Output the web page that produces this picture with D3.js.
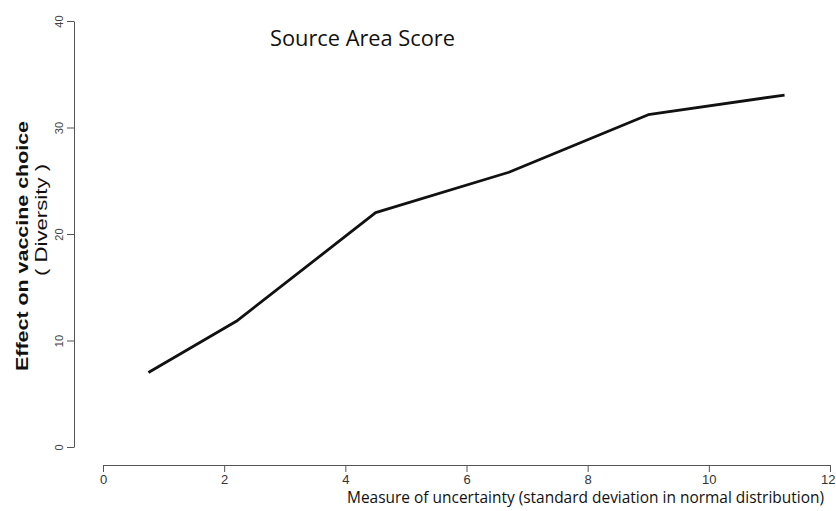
<!DOCTYPE html>
<html><head><meta charset="utf-8">
<script src="https://cdn.jsdelivr.net/npm/d3@7"></script>
<style>body{margin:0;background:#fff}</style>
</head><body>
<svg id="c" width="836" height="511"></svg>
<script>
const xValues = [0.75, 2.2, 4.5, 6.7, 9.0, 11.25];
const yValues = [7.0, 11.8, 22.0, 25.8, 31.2, 33.05];
const xTicks = [0, 2, 4, 6, 8, 10, 12];
const yTicks = [0, 10, 20, 30, 40];
const title = "Source Area Score";
const xLabel = "Measure of uncertainty (standard deviation in normal distribution)";
const yLabel1 = "Effect on vaccine choice";
const yLabel2 = "( Diversity )";

const W = 836;
const svg = d3.select("#c");
const x = d3.scaleLinear().domain([0, 12]).range([103, 830]);
const y = d3.scaleLinear().domain([0, 40]).range([447, 21]);
const axisColor = "#555";

// x axis
const gx = svg.append("g").attr("transform", "translate(0,465)")
  .call(d3.axisBottom(x).tickValues(xTicks).tickSize(7).tickSizeOuter(0).tickPadding(3));
gx.select(".domain").attr("stroke", axisColor);
gx.selectAll(".tick line").attr("stroke", axisColor);
gx.selectAll(".tick text").attr("fill", "#333")
  .style("font-family", "'Liberation Sans Narrow','Arial Narrow',sans-serif").style("font-size", "13px");
// keep the last label inside the page
gx.selectAll(".tick").filter(d => d === xTicks[xTicks.length - 1]).select("text")
  .attr("text-anchor", "end").attr("x", W - 1 - x(xTicks[xTicks.length - 1]) );

// y axis
const gy = svg.append("g").attr("transform", "translate(74,0)")
  .call(d3.axisLeft(y).tickValues(yTicks).tickSize(7).tickSizeOuter(0).tickPadding(0));
gy.select(".domain").attr("stroke", axisColor);
gy.selectAll(".tick line").attr("stroke", axisColor);
gy.selectAll(".tick text").attr("fill", "#444")
  .style("font-family", "'Liberation Sans',Arial,sans-serif").style("font-size", "11px")
  .attr("text-anchor", "middle").attr("x", null).attr("dy", null)
  .attr("transform", "translate(-11,0) rotate(-90)");

// line
const line = d3.line().x((d, i) => x(xValues[i])).y(d => y(d));
svg.append("path").datum(yValues).attr("d", line)
  .attr("fill", "none").attr("stroke", "#111").attr("stroke-width", 2.8)
  .attr("stroke-linejoin", "round");

// title
svg.append("text").attr("x", 270).attr("y", 46).text(title)
  .attr("textLength", 185).attr("lengthAdjust", "spacingAndGlyphs")
  .style("font-family", "'Open Sans',sans-serif").style("font-size", "21px").attr("fill", "#111");

// x label
svg.append("text").attr("transform", "translate(347,503) scale(1,1.15)").text(xLabel)
  .attr("textLength", 477).attr("lengthAdjust", "spacingAndGlyphs")
  .style("font-family", "'Open Sans',sans-serif").style("font-size", "14px").attr("fill", "#111");

// y labels
svg.append("text").attr("transform", "translate(28,246) rotate(-90)").attr("text-anchor", "middle")
  .text(yLabel1).attr("textLength", 250).attr("lengthAdjust", "spacingAndGlyphs")
  .style("font-family", "'Liberation Sans',Arial,sans-serif")
  .style("font-size", "17px").style("font-weight", "bold").attr("fill", "#111");
svg.append("text").attr("transform", "translate(47,220) rotate(-90)").attr("text-anchor", "middle")
  .text(yLabel2).attr("textLength", 112).attr("lengthAdjust", "spacingAndGlyphs")
  .style("font-family", "'Liberation Sans',Arial,sans-serif")
  .style("font-size", "16px").attr("fill", "#111");
</script>
</body></html>
